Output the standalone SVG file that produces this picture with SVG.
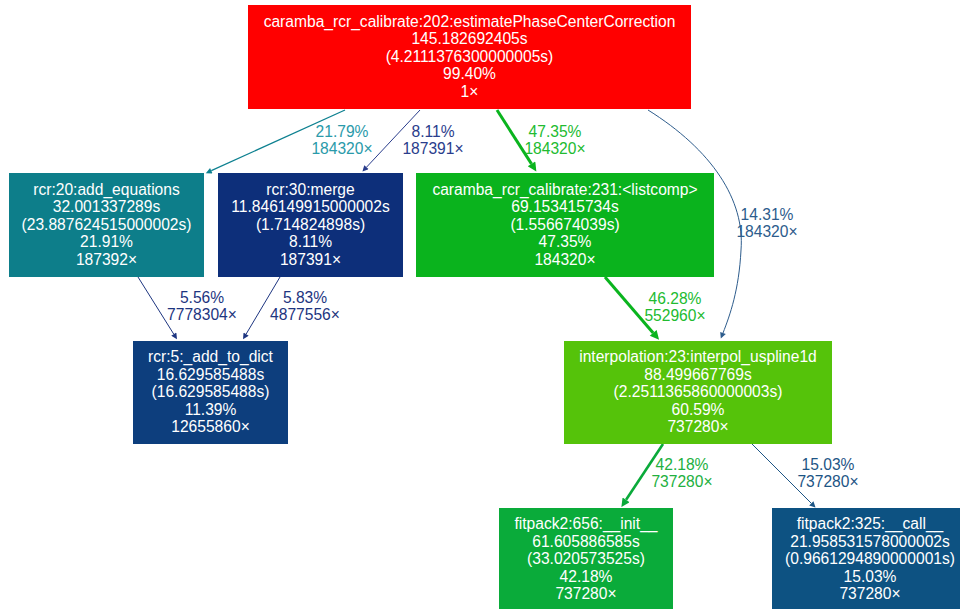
<svg xmlns="http://www.w3.org/2000/svg" width="960" height="609" viewBox="0 0 960 609">
<style>
text{font-family:"Liberation Sans",Arial,sans-serif;font-size:15.6px;text-anchor:middle}
.n text{fill:#ffffff}
.e{fill:none}
</style>
<defs>
<marker id="aTeal" viewBox="0 0 10 10" refX="0" refY="5" markerUnits="userSpaceOnUse" markerWidth="8" markerHeight="6" orient="auto"><path d="M0,0L10,5L0,10z" fill="#0d8090"/></marker>
<marker id="aNavy" viewBox="0 0 10 10" refX="0" refY="5" markerUnits="userSpaceOnUse" markerWidth="8" markerHeight="6" orient="auto"><path d="M0,0L10,5L0,10z" fill="#2a3d8c"/></marker>
<marker id="aDark" viewBox="0 0 10 10" refX="0" refY="5" markerUnits="userSpaceOnUse" markerWidth="8" markerHeight="6" orient="auto"><path d="M0,0L10,5L0,10z" fill="#1d3580"/></marker>
<marker id="aBlue" viewBox="0 0 10 10" refX="0" refY="5" markerUnits="userSpaceOnUse" markerWidth="8" markerHeight="6" orient="auto"><path d="M0,0L10,5L0,10z" fill="#2d5c8c"/></marker>
<marker id="aCall" viewBox="0 0 10 10" refX="0" refY="5" markerUnits="userSpaceOnUse" markerWidth="8" markerHeight="6" orient="auto"><path d="M0,0L10,5L0,10z" fill="#1d5585"/></marker>
<marker id="aGreen" viewBox="0 0 10 10" refX="0" refY="5" markerUnits="userSpaceOnUse" markerWidth="12" markerHeight="9" orient="auto"><path d="M0,0L10,5L0,10z" fill="#0ab41e"/></marker>
<marker id="aGreen2" viewBox="0 0 10 10" refX="0" refY="5" markerUnits="userSpaceOnUse" markerWidth="11" markerHeight="8.5" orient="auto"><path d="M0,0L10,5L0,10z" fill="#0aaa3a"/></marker>
</defs>
<rect width="960" height="609" fill="#ffffff"/>
<g id="connectors">
<path class="e" d="M345,110L211.3,170.7" stroke="#0d8090" stroke-width="1.3" marker-end="url(#aTeal)"/>
<text x="342" y="137" fill="#2a9aaa">21.79%</text><text x="342" y="154" fill="#2a9aaa">184320×</text>
<path class="e" d="M420,110L366.5,167.2" stroke="#2a3d8c" stroke-width="1" marker-end="url(#aNavy)"/>
<text x="433" y="137" fill="#2a3d8c">8.11%</text><text x="433" y="154" fill="#2a3d8c">187391×</text>
<path class="e" d="M497,110L531.5,163.9" stroke="#0ab41e" stroke-width="3" marker-end="url(#aGreen)"/>
<text x="555" y="137" fill="#22bb30">47.35%</text><text x="555" y="154" fill="#22bb30">184320×</text>
<path class="e" d="M648,110C712,150 745,200 741,250C739,290 730,315 723,333" stroke="#2d5c8c" stroke-width="1" marker-end="url(#aBlue)"/>
<text x="767" y="220" fill="#2d5c8c">14.31%</text><text x="767" y="237" fill="#2d5c8c">184320×</text>
<path class="e" d="M138,277L173.8,334.2" stroke="#1d3580" stroke-width="1" marker-end="url(#aDark)"/>
<text x="202" y="303" fill="#1d3580">5.56%</text><text x="202" y="320" fill="#1d3580">7778304×</text>
<path class="e" d="M280,277L246.1,334.1" stroke="#1d3580" stroke-width="1" marker-end="url(#aDark)"/>
<text x="305" y="303" fill="#1d3580">5.83%</text><text x="305" y="320" fill="#1d3580">4877556×</text>
<path class="e" d="M605,277L653.2,332.9" stroke="#0ab41e" stroke-width="3" marker-end="url(#aGreen)"/>
<text x="675" y="304" fill="#22bb30">46.28%</text><text x="675" y="321" fill="#22bb30">552960×</text>
<path class="e" d="M663,444L626.1,499.8" stroke="#0aaa3a" stroke-width="2.6" marker-end="url(#aGreen2)"/>
<text x="682" y="470" fill="#22b040">42.18%</text><text x="682" y="487" fill="#22b040">737280×</text>
<path class="e" d="M752,444L811.3,503.3" stroke="#1d5585" stroke-width="1" marker-end="url(#aCall)"/>
<text x="828" y="470" fill="#1d5585">15.03%</text><text x="828" y="487" fill="#1d5585">737280×</text>
</g>
<g id="node_top" class="n">
<rect x="248" y="5" width="443" height="104" fill="#ff0000"/>
<text x="469.5" y="26.5">caramba_rcr_calibrate:202:estimatePhaseCenterCorrection</text>
<text x="469.5" y="44">145.182692405s</text>
<text x="469.5" y="61.5">(4.2111376300000005s)</text>
<text x="469.5" y="79">99.40%</text>
<text x="469.5" y="96.5">1×</text>
</g>
<g id="node_add_equations" class="n">
<rect x="9" y="173" width="195" height="104" fill="#0d7e8a"/>
<text x="106.5" y="194.5">rcr:20:add_equations</text>
<text x="106.5" y="212">32.001337289s</text>
<text x="106.5" y="229.5">(23.887624515000002s)</text>
<text x="106.5" y="247">21.91%</text>
<text x="106.5" y="264.5">187392×</text>
</g>
<g id="node_merge" class="n">
<rect x="218" y="173" width="185" height="104" fill="#0d2f7a"/>
<text x="310.5" y="194.5">rcr:30:merge</text>
<text x="310.5" y="212">11.846149915000002s</text>
<text x="310.5" y="229.5">(1.714824898s)</text>
<text x="310.5" y="247">8.11%</text>
<text x="310.5" y="264.5">187391×</text>
</g>
<g id="node_listcomp" class="n">
<rect x="416" y="173" width="298" height="104" fill="#0ab31d"/>
<text x="565" y="194.5">caramba_rcr_calibrate:231:&lt;listcomp&gt;</text>
<text x="565" y="212">69.153415734s</text>
<text x="565" y="229.5">(1.556674039s)</text>
<text x="565" y="247">47.35%</text>
<text x="565" y="264.5">184320×</text>
</g>
<g id="node_add_to_dict" class="n">
<rect x="133" y="341" width="155" height="103" fill="#0d3e7d"/>
<text x="210.5" y="362">rcr:5:_add_to_dict</text>
<text x="210.5" y="379.5">16.629585488s</text>
<text x="210.5" y="397">(16.629585488s)</text>
<text x="210.5" y="414.5">11.39%</text>
<text x="210.5" y="432">12655860×</text>
</g>
<g id="node_interpol" class="n">
<rect x="564" y="341" width="268" height="103" fill="#55c30a"/>
<text x="698" y="362">interpolation:23:interpol_uspline1d</text>
<text x="698" y="379.5">88.499667769s</text>
<text x="698" y="397">(2.2511365860000003s)</text>
<text x="698" y="414.5">60.59%</text>
<text x="698" y="432">737280×</text>
</g>
<g id="node_init" class="n">
<rect x="499" y="508" width="174" height="104" fill="#0aab3a"/>
<text x="586" y="529">fitpack2:656:__init__</text>
<text x="586" y="546.5">61.605886585s</text>
<text x="586" y="564">(33.020573525s)</text>
<text x="586" y="581.5">42.18%</text>
<text x="586" y="599">737280×</text>
</g>
<g id="node_call" class="n">
<rect x="772" y="508" width="196" height="104" fill="#0d5282"/>
<text x="870" y="529">fitpack2:325:__call__</text>
<text x="870" y="546.5">21.958531578000002s</text>
<text x="870" y="564">(0.9661294890000001s)</text>
<text x="870" y="581.5">15.03%</text>
<text x="870" y="599">737280×</text>
</g>
</svg>
